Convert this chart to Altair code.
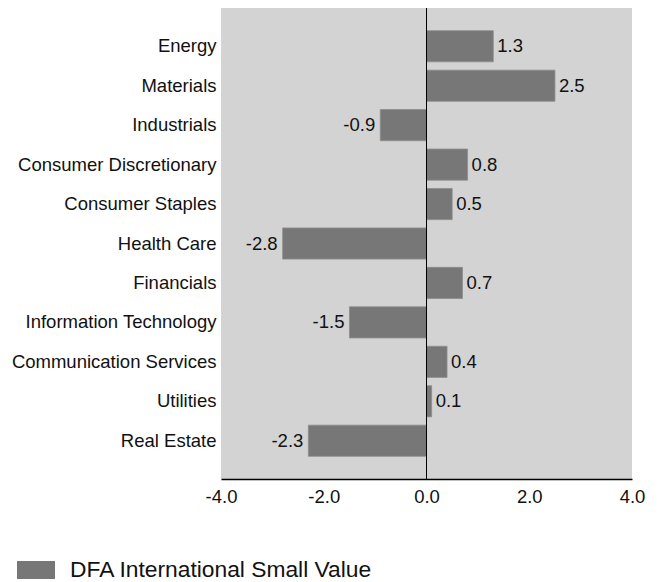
import altair as alt
import pandas as pd

sectors = ["Energy", "Materials", "Industrials", "Consumer Discretionary", "Consumer Staples",
           "Health Care", "Financials", "Information Technology", "Communication Services",
           "Utilities", "Real Estate"]
values = [1.3, 2.5, -0.9, 0.8, 0.5, -2.8, 0.7, -1.5, 0.4, 0.1, -2.3]
series = "DFA International Small Value"
x_ticks = [-4, -2, 0, 2, 4]

df = pd.DataFrame({"sector": sectors, "value": values, "series": [series] * len(sectors)})
df["label"] = df["value"].map(lambda v: f"{v:.1f}")

FONT = "Liberation Sans"

y_enc = alt.Y("sector:N", sort=sectors, title=None,
              scale=alt.Scale(paddingInner=0.21, paddingOuter=0.575),
              axis=alt.Axis(domain=False, ticks=False, labelFontSize=18.5, labelPadding=5,
                            labelColor="#111111", labelFont=FONT, labelLimit=400))
x_enc = alt.X("value:Q", title=None,
              scale=alt.Scale(domain=[-4, 4], nice=False, zero=False),
              axis=alt.Axis(values=x_ticks, format=".1f", grid=False, ticks=False,
                            labelExpr="replace(datum.label, '\u2212', '-')",
                            domainColor="black", domainWidth=1.5, labelFontSize=18.5,
                            labelPadding=8, labelFlush=False, labelColor="#111111",
                            labelFont=FONT))

bars = alt.Chart(df).mark_bar(stroke="#8e8e8e", strokeWidth=0.8).encode(
    y=y_enc,
    x=x_enc,
    x2=alt.datum(0),
    color=alt.Color("series:N", title=None,
                    scale=alt.Scale(domain=[series], range=["#777777"]),
                    legend=alt.Legend(orient="none", legendX=-204, legendY=543,
                                      symbolType="M-1,-0.47H1V0.47H-1Z", symbolSize=1444,
                                      symbolStrokeWidth=0, labelFontSize=22.8, labelFont=FONT,
                                      labelColor="#111111", labelOffset=15, padding=0,
                                      labelLimit=500)),
)

pos = alt.Chart(df).transform_filter("datum.value >= 0").mark_text(
    align="left", baseline="middle", dx=4, fontSize=18.5, font=FONT, color="#111111"
).encode(y=alt.Y("sector:N", sort=sectors), x="value:Q", text="label:N")

neg = alt.Chart(df).transform_filter("datum.value < 0").mark_text(
    align="right", baseline="middle", dx=-5, fontSize=18.5, font=FONT, color="#111111"
).encode(y=alt.Y("sector:N", sort=sectors), x="value:Q", text="label:N")

zero = alt.Chart(pd.DataFrame({"z": [0]})).mark_rule(color="black", strokeWidth=1).encode(
    x="z:Q")

chart = alt.layer(bars, zero, pos, neg).properties(
    width=411, height=471,
    autosize=alt.AutoSizeParams(type="none"),
    padding={"left": 213, "top": 0, "right": 20, "bottom": 102},
).configure_view(fill="#d3d3d3", stroke=None)

chart.save("out.html", embed_options={"renderer": "svg", "actions": False})
